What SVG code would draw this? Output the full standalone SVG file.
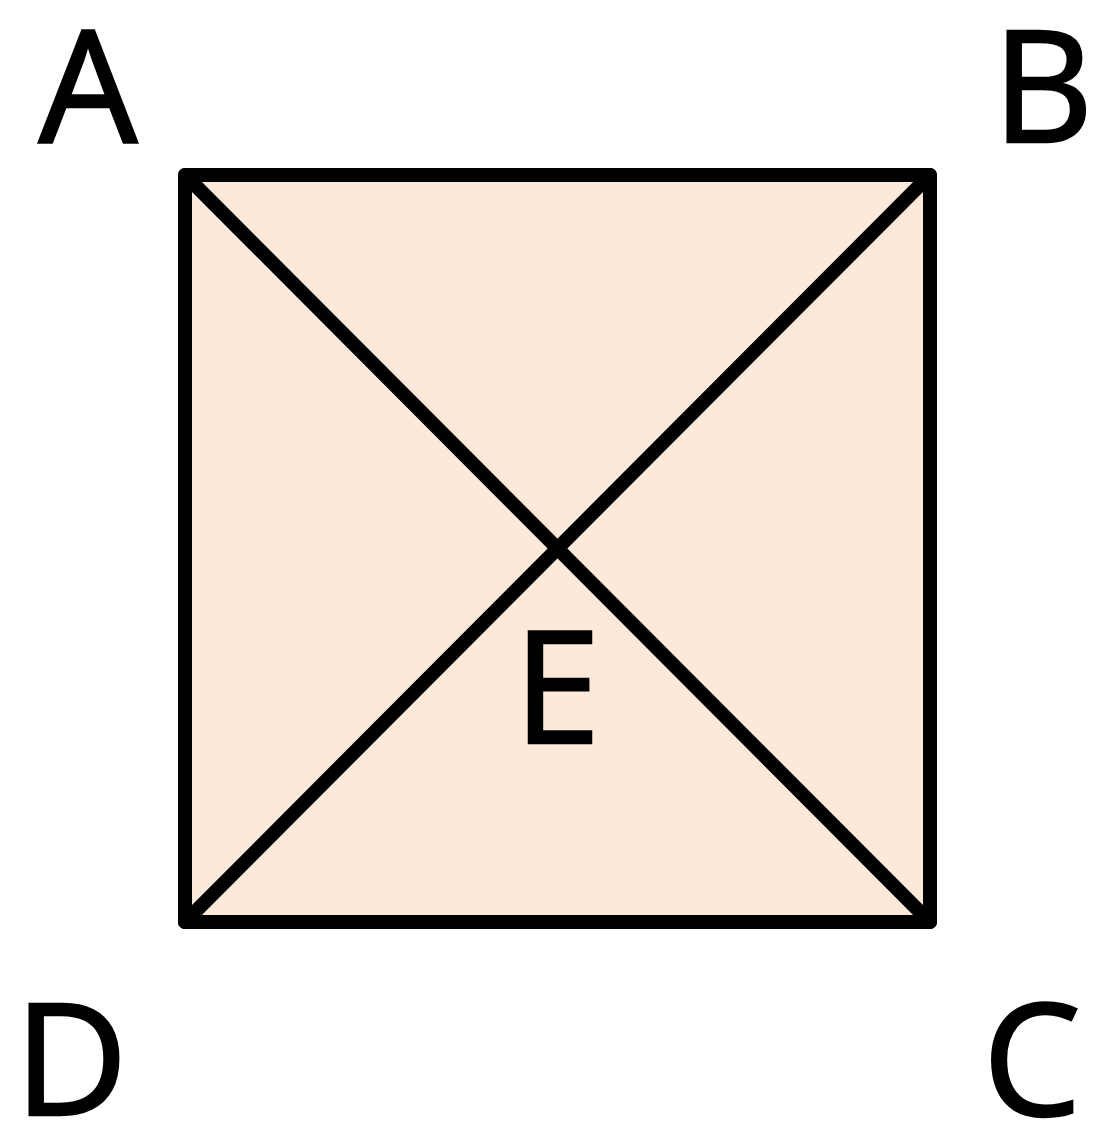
<svg xmlns="http://www.w3.org/2000/svg" width="1099" height="1139" viewBox="0 0 1099 1139">
<style>
.lbl{font-family:"Open Sans","Liberation Sans",sans-serif;font-size:156px;fill:#000;stroke:#000;stroke-width:2.5;text-anchor:middle}
.edge{stroke:#000;stroke-width:14;fill:none;stroke-linecap:round}
</style>
<rect width="1099" height="1139" fill="#fff"/>
<g id="square">
<rect x="185" y="175" width="745" height="747" fill="#FCE9DA" stroke="#000" stroke-width="14" stroke-linejoin="round"/>
</g>
<g id="connectors">
<line class="edge" x1="185" y1="175" x2="930" y2="922"/>
<line class="edge" x1="930" y1="175" x2="185" y2="922"/>
</g>
<g id="A"><text class="lbl" x="88" y="142">A</text></g>
<g id="B"><text class="lbl" x="1043" y="142">B</text></g>
<g id="C"><text class="lbl" x="1032" y="1115">C</text></g>
<g id="D"><text class="lbl" x="71" y="1115">D</text></g>
<g id="E"><text class="lbl" x="557" y="743">E</text></g>
</svg>
